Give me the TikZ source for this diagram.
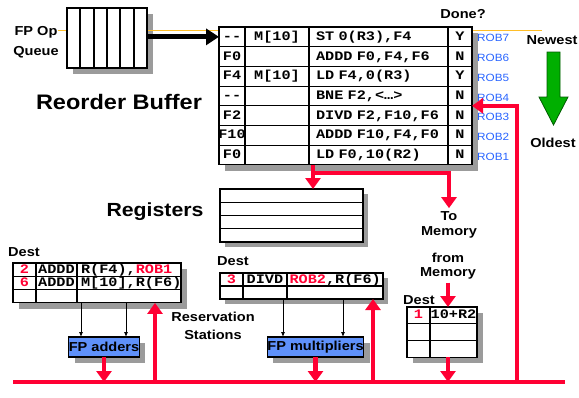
\documentclass[tikz,border=0pt]{standalone}
\usepackage{fontspec}
\setmainfont{Liberation Sans}[FakeStretch=1.12]
\setmonofont{Liberation Mono}[FakeStretch=1.17, WordSpace=1.17]
\usetikzlibrary{positioning,arrows.meta,calc,backgrounds}
\definecolor{busC}{RGB}{255,0,51}
\definecolor{tagC}{RGB}{40,100,255}
\definecolor{qlineC}{RGB}{255,190,40}
\definecolor{unitC}{RGB}{95,145,250}
\definecolor{shadeC}{RGB}{155,155,155}
\definecolor{ageC}{RGB}{0,175,0}
\definecolor{ageD}{RGB}{0,90,0}
\newcommand{\cellfont}{\ttfamily\bfseries\fontsize{13}{13}\selectfont}
\tikzset{
	cell/.style={draw, line width=1.1pt, fill=white, inner sep=0pt, outer sep=0pt,
		anchor=north west, text height=8.5pt, text depth=1.5pt, font=\cellfont},
	lcell/.style={cell, align=left, inner xsep=#1},
	qcell/.style={draw, line width=1.1pt, fill=white, inner sep=0pt, outer sep=0pt,
		anchor=north west, minimum width=#1, minimum height=60pt},
	fpunit/.style={draw, line width=1.1pt, fill=unitC, inner sep=0pt, outer sep=0pt,
		minimum height=20pt, font=\bfseries\fontsize{13}{13}\selectfont},
	lbl/.style={font=\bfseries\fontsize{13}{#1}\selectfont, align=center},
	lbl/.default=16,
	title/.style={font=\bfseries\fontsize{#1}{#1}\selectfont},
	robtag/.style={font=\fontsize{10.5}{10.5}\selectfont, text=tagC, anchor=west, inner sep=0pt},
	backdrop/.style={fill=shadeC},
	qline/.style={qlineC, line width=1.4pt},
	bus/.style={busC, line width=4.5pt},
	redflow/.style={-{Triangle[length=11pt,width=15pt]}, busC, line width=4.5pt},
	feed/.style={-{Latex[length=5pt,width=4pt]}, line width=0.8pt},
	issue/.style={-{Triangle[length=13pt,width=16pt]}, line width=5pt},
}

\begin{document}
\begin{tikzpicture}[x=1pt, y=-1pt]
	\useasboundingbox (0,0) rectangle (579,397);
	
	% =============== QUEUE LINE (behind everything) ===============
	\coordinate (qin) at (58,30.5);
	\coordinate (qend) at (542,30.5);
	\draw[qline] (qin) -- (qend);
	
	% =============== FP OP QUEUE ===============
	\node[qcell=13pt] (q0) at (67,8) {};
	\node[qcell=14pt] (q1) at (q0.north east) {};
	\node[qcell=13pt] (q2) at (q1.north east) {};
	\node[qcell=13pt] (q3) at (q2.north east) {};
	\node[qcell=14pt] (q4) at (q3.north east) {};
	\node[qcell=13pt] (q5) at (q4.north east) {};
	\node[lbl=20] (fpq) at (36,42) {FP Op\\Queue};
	
	% =============== REORDER BUFFER ===============
	\foreach \r/\dst/\val/\instr/\dn/\rb in {
		1/{--}/{M[10]}/{ST 0(R3),F4}/Y/7,
		2/F0/{}/{ADDD F0,F4,F6}/N/6,
		3/F4/{M[10]}/{LD F4,0(R3)}/Y/5,
		4/{--}/{}/{BNE F2,<…>}/N/4,
		5/F2/{}/{DIVD F2,F10,F6}/N/3,
		6/F10/{}/{ADDD F10,F4,F0}/N/2,
		7/F0/{}/{LD F0,10(R2)}/N/1}
	{
		\node[cell, minimum width=26pt, minimum height=19.7pt] (rob-\r-1) at (219,{27+(\r-1)*19.7}) {\makebox[0pt]{\dst}};
		\node[cell, minimum width=64pt, minimum height=19.7pt] (rob-\r-2) at (rob-\r-1.north east) {\val};
		\node[lcell=7pt, text width=125pt, minimum height=19.7pt] (rob-\r-3) at (rob-\r-2.north east) {\instr};
		\node[cell, minimum width=24pt, minimum height=19.7pt] (rob-\r-4) at (rob-\r-3.north east) {\dn};
		\node[robtag] (tag-\r) at ($(rob-\r-4.east)+(5,1.5)$) {ROB\rb};
	}
	\node[title=21] (robtitle) at (119,102) {Reorder Buffer};
	\node[lbl] (done) at (463,14) {Done?};
	\node[lbl] (newest) at (552,40) {Newest};
	\node[lbl] (oldest) at (553,143) {Oldest};
	\filldraw[fill=ageC, draw=ageD, line width=0.8pt]
	(547,52) -- (560,52) -- (560,97) -- (568,97) -- (553.5,125) -- (539,97) -- (547,97) -- cycle;
	
	\draw[issue] (q5.east |- rob-1-1.west) -- (rob-1-1.west);
	
	% =============== REGISTERS ===============
	\foreach \r in {1,...,4}
		\node[cell, minimum width=143pt, minimum height=13.25pt] (reg-\r) at (220,{189+(\r-1)*13.25}) {};
	\node[title=19] (regtitle) at (155,212) {Registers};
	
	% =============== RESERVATION STATIONS: adders ===============
	\foreach \r/\dst/\op/\srcs in {
		1/2/ADDD/{R(F4),\textcolor{busC}{ROB1}},
		2/6/ADDD/{M[10],R(F6)},
		3/{}/{}/{}}
	{
		\node[cell, minimum width=23pt, minimum height=13.3pt, text=busC] (ars-\r-1) at (13,{263+(\r-1)*13.3}) {\dst};
		\node[cell, minimum width=41pt, minimum height=13.3pt] (ars-\r-2) at (ars-\r-1.north east) {\op};
		\node[lcell=4pt, text width=96pt, minimum height=13.3pt] (ars-\r-3) at (ars-\r-2.north east) {\srcs};
	}
	\node[lbl] (adest) at (24,252) {Dest};
	\node[fpunit, minimum width=70pt] (adders) at (104,347) {FP adders};
	
	% =============== RESERVATION STATIONS: multipliers ===============
	\foreach \r/\dst/\op/\srcs in {
		1/3/DIVD/{\textcolor{busC}{ROB2},R(F6)},
		2/{}/{}/{}}
	{
		\node[cell, minimum width=23pt, minimum height=13pt, text=busC] (mrs-\r-1) at (220,{273+(\r-1)*13}) {\dst};
		\node[cell, minimum width=44pt, minimum height=13pt] (mrs-\r-2) at (mrs-\r-1.north east) {\op};
		\node[lcell=2.5pt, text width=91pt, minimum height=13pt] (mrs-\r-3) at (mrs-\r-2.north east) {\srcs};
	}
	\node[lbl] (mdest) at (233,261) {Dest};
	\node[fpunit, minimum width=95pt] (mults) at (315.5,347) {FP multipliers};
	\node[lbl=18] (rstitle) at (213,326) {Reservation\\Stations};
	
	% =============== LOAD BUFFER ===============
	\foreach \r/\dst/\addr in {1/1/{10+R2}, 2/{}/{}, 3/{}/{}}
	{
		\node[cell, minimum width=23pt, minimum height=16.7pt, text=busC] (lb-\r-1) at (407,{307+(\r-1)*16.7}) {\dst};
		\node[cell, minimum width=47pt, minimum height=16.7pt] (lb-\r-2) at (lb-\r-1.north east) {\addr};
	}
	\node[lbl] (ldest) at (419,300) {Dest};
	\node[lbl=15] (tomem) at (449,225) {To\\Memory};
	\node[lbl=14] (frommem) at (448,266) {from\\Memory};
	
	% =============== SHADOWS ===============
	\begin{scope}[on background layer]
		\fill[backdrop] ($(q0.north west)+(6,6)$) rectangle ($(q5.south east)+(6,6)$);
		\fill[backdrop] ($(rob-1-1.north west)+(6,6)$) rectangle ($(rob-7-4.south east)+(6,6)$);
		\fill[backdrop] ($(reg-1.north west)+(5,5)$) rectangle ($(reg-4.south east)+(5,5)$);
		\fill[backdrop] ($(ars-1-1.north west)+(6,6)$) rectangle ($(ars-3-3.south east)+(6,6)$);
		\fill[backdrop] ($(mrs-1-1.north west)+(5,5)$) rectangle ($(mrs-2-3.south east)+(5,5)$);
		\fill[backdrop] ($(lb-1-1.north west)+(6,6)$) rectangle ($(lb-3-2.south east)+(6,6)$);
		\fill[backdrop] ($(adders.north west)+(6,6)$) rectangle ($(adders.south east)+(6,6)$);
		\fill[backdrop] ($(mults.north west)+(6,6)$) rectangle ($(mults.south east)+(6,6)$);
	\end{scope}
	
	% =============== OPERAND FEEDS ===============
	\draw[feed] (ars-3-3.south west) ++(4,0) coordinate (fa1) -- (fa1 |- adders.north);
	\draw[feed] (ars-3-3.south west) ++(49,0) coordinate (fa2) -- (fa2 |- adders.north);
	\draw[feed] (mrs-2-2.south east) ++(-4,0) coordinate (fm1) -- (fm1 |- mults.north);
	\draw[feed] (mrs-2-3.south west) ++(56,0) coordinate (fm2) -- (fm2 |- mults.north);
	
	% =============== COMMON DATA BUS ===============
	\coordinate (busL) at (13,382);
	\coordinate (busR) at (565,382);
	\coordinate (tapA) at (155,382);
	\coordinate (tapM) at (373,382);
	\coordinate (tapR) at (517,382);
	\draw[bus] (busL) -- (busR);
	
	\draw[redflow] (adders.south) -- (adders.south |- busL);
	\draw[redflow] (mults.south) -- (mults.south |- busL);
	\draw[redflow] (lb-3-1.south -| frommem) -- (frommem |- busL);
	\draw[redflow] (tapA) -- (tapA |- ars-3-3.south);
	\draw[redflow] (tapM) -- (tapM |- mrs-2-3.south);
	\draw[redflow] (tapR) |- (rob-5-4.north east);
	
	% =============== ROB OUTPUT ===============
	\coordinate (robout) at ($(rob-7-3.south west)+(4,0)$);
	\draw[redflow] (robout) -- (robout |- reg-1.north);
	\draw[redflow] (robout) -- ++(0,8) -| (tomem.north);
	\draw[redflow] (frommem.south) -- (frommem.south |- lb-1-1.north);
	
\end{tikzpicture}
\end{document}
